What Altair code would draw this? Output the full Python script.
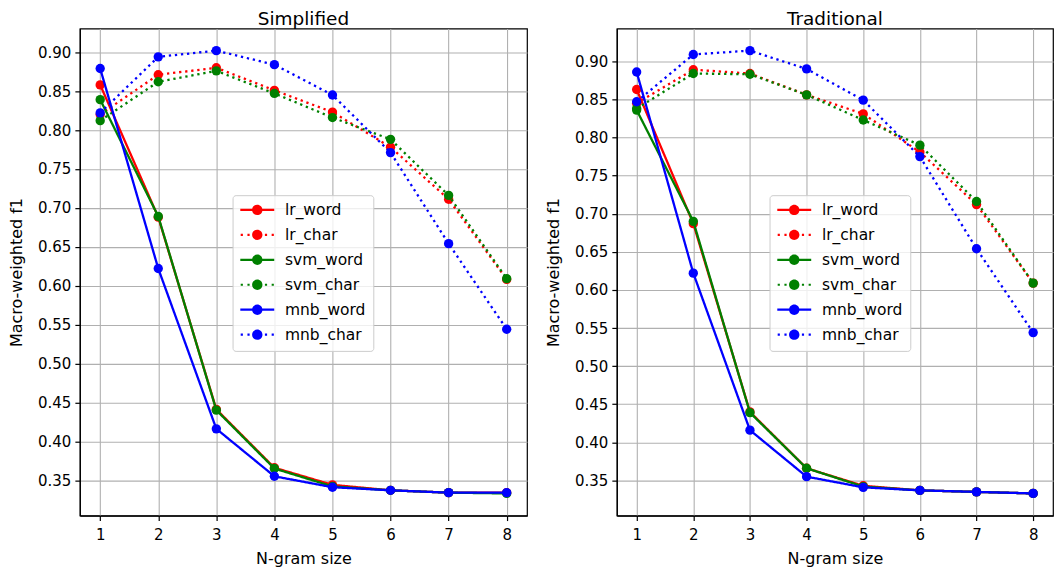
import altair as alt
import pandas as pd

ngram = [1, 2, 3, 4, 5, 6, 7, 8]
series_names = ["lr_word", "lr_char", "svm_word", "svm_char", "mnb_word", "mnb_char"]
series_colors = ["#ff0000", "#ff0000", "#008000", "#008000", "#0000ff", "#0000ff"]
series_dash = [[1, 0], [2.3, 3.8], [1, 0], [2.3, 3.8], [1, 0], [2.3, 3.8]]
y_ticks = [0.35, 0.40, 0.45, 0.50, 0.55, 0.60, 0.65, 0.70, 0.75, 0.80, 0.85, 0.90]

# Simplified
simp_lr_word = [0.858, 0.688, 0.441, 0.366, 0.344, 0.337, 0.334, 0.334]
simp_lr_char = [0.820, 0.871, 0.880, 0.851, 0.823, 0.778, 0.711, 0.608]
simp_svm_word = [0.839, 0.689, 0.440, 0.365, 0.342, 0.337, 0.334, 0.333]
simp_svm_char = [0.812, 0.862, 0.876, 0.847, 0.816, 0.788, 0.716, 0.609]
simp_mnb_word = [0.879, 0.622, 0.416, 0.355, 0.341, 0.337, 0.334, 0.334]
simp_mnb_char = [0.822, 0.894, 0.902, 0.884, 0.845, 0.771, 0.654, 0.544]

# Traditional
trad_lr_word = [0.863, 0.687, 0.440, 0.366, 0.343, 0.337, 0.335, 0.333]
trad_lr_char = [0.845, 0.889, 0.884, 0.856, 0.831, 0.781, 0.712, 0.609]
trad_svm_word = [0.836, 0.690, 0.439, 0.366, 0.342, 0.337, 0.335, 0.333]
trad_svm_char = [0.838, 0.884, 0.883, 0.856, 0.823, 0.790, 0.716, 0.609]
trad_mnb_word = [0.886, 0.622, 0.416, 0.355, 0.341, 0.337, 0.335, 0.333]
trad_mnb_char = [0.847, 0.909, 0.914, 0.890, 0.849, 0.775, 0.654, 0.544]

simp = dict(zip(series_names, [simp_lr_word, simp_lr_char, simp_svm_word,
                               simp_svm_char, simp_mnb_word, simp_mnb_char]))
trad = dict(zip(series_names, [trad_lr_word, trad_lr_char, trad_svm_word,
                               trad_svm_char, trad_mnb_word, trad_mnb_char]))

FONT = "DejaVu Sans"

# legend glyphs (unit = sqrt(symbolSize)/2 = 5px): line sample with a dot in the middle
CIRCLE = "M-1.04,0A1.04,1.04,0,1,1,1.04,0A1.04,1.04,0,1,1,-1.04,0Z"
SOLID_SYMBOL = "M-3.4,-0.22H3.4V0.22H-3.4Z" + CIRCLE
DOTTED_SYMBOL = "".join(
    f"M{cx - 0.22:.2f},-0.22H{cx + 0.22:.2f}V0.22H{cx - 0.22:.2f}Z"
    for cx in (-3.1, -1.75, 1.75, 3.1)
) + CIRCLE
series_symbols = [SOLID_SYMBOL, DOTTED_SYMBOL] * 3


def make_legend():
    return alt.Legend(
        orient="none", legendX=153, legendY=167, title=None,
        symbolSize=100, symbolOpacity=1, symbolOffset=10, labelOffset=20,
        symbolStrokeWidth=0, symbolStrokeColor="transparent",
        labelFontSize=15.5, labelFont=FONT, labelColor="black",
        padding=7, rowPadding=8,
        fillColor="rgba(255,255,255,0.8)", strokeColor="#cccccc",
        cornerRadius=3,
    )


def panel(title, values, width):
    rows = []
    for s in series_names:
        for n, v in zip(ngram, values[s]):
            rows.append({"n": n, "value": v, "series": s})
    df = pd.DataFrame(rows)
    lo, hi = df["value"].min(), df["value"].max()
    ym = 0.05 * (hi - lo)
    xm = 0.05 * (max(ngram) - min(ngram))
    x = alt.X("n:Q",
              scale=alt.Scale(domain=[min(ngram) - xm, max(ngram) + xm], nice=False, zero=False),
              axis=alt.Axis(values=ngram, format="d", title="N-gram size"))
    y = alt.Y("value:Q",
              scale=alt.Scale(domain=[lo - ym, hi + ym], nice=False, zero=False),
              axis=alt.Axis(values=y_ticks, format=".2f", title="Macro-weighted f1"))
    color_scale = alt.Scale(domain=series_names, range=series_colors)
    color_nolegend = alt.Color("series:N", scale=color_scale, legend=None)
    dash = alt.StrokeDash("series:N", scale=alt.Scale(domain=series_names, range=series_dash),
                          legend=None)

    # legend-only layer (no marks drawn): filled colour + line/dot glyph per series
    legend_layer = alt.Chart(df).transform_filter("false").mark_point(filled=True).encode(
        x=x, y=y,
        color=alt.Color("series:N", scale=color_scale, legend=make_legend()),
        shape=alt.Shape("series:N", scale=alt.Scale(domain=series_names, range=series_symbols),
                        legend=make_legend()),
    )
    layers = [legend_layer]
    for s in series_names:
        base = alt.Chart(df).transform_filter(alt.datum.series == s)
        layers.append(base.mark_line(strokeWidth=2.3).encode(
            x=x, y=y, color=color_nolegend, strokeDash=dash))
        layers.append(base.mark_point(filled=True, size=88, opacity=1).encode(
            x=x, y=y, color=color_nolegend))
    return alt.layer(*layers).properties(
        width=width, height=488,
        title=alt.Title(title, fontSize=18.5, font=FONT, fontWeight="normal",
                        color="black", offset=0, anchor="middle"),
    )


chart = alt.hconcat(
    panel("Simplified", simp, 448),
    panel("Traditional", trad, 437),
    spacing=17,
).resolve_scale(
    color="independent", strokeDash="independent", shape="independent"
).properties(
    padding={"left": 0, "top": 0, "right": 0, "bottom": 0}
).configure_view(
    stroke="black", strokeWidth=1.2
).configure_axis(
    labelFont=FONT, titleFont=FONT, labelFontSize=15, titleFontSize=16,
    labelColor="black", titleColor="black", titleFontWeight="normal",
    domainColor="black", domainWidth=1.2, tickColor="black", tickWidth=1.2,
    tickSize=5, gridColor="#b0b0b0", gridWidth=1.1,
).configure_axisY(
    titlePadding=13, labelPadding=4
).configure_axisX(
    titlePadding=8, labelPadding=7
)

chart.save("out.html", embed_options={"renderer": "svg", "actions": False})
